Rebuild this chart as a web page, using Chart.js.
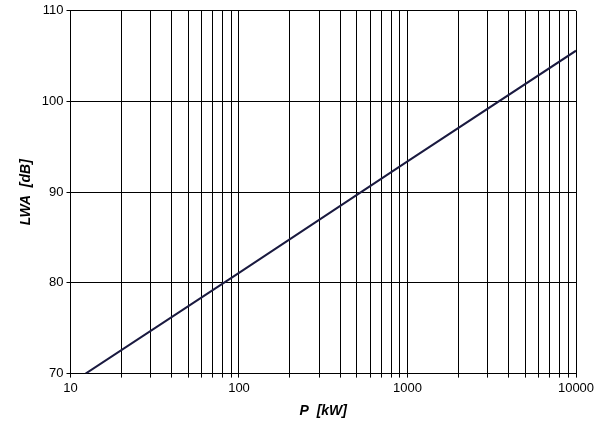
<!DOCTYPE html>
<html>
<head>
<meta charset="utf-8">
<script src="https://cdn.jsdelivr.net/npm/chart.js@4"></script>
<style>
  body { margin: 0; background: #fff; }
  #wrap { width: 600px; height: 434px; }
</style>
</head>
<body>
<div id="wrap"><canvas id="myChart"></canvas></div>
<script>
// values
let powerKW = [12.3, 100, 1000, 10000];
let soundLevel = [70, 81.1, 93.4, 105.6];
let yTicks = [70, 80, 90, 100, 110];
let xTicks = [];
[10, 100, 1000].forEach(d => { for (let m = 1; m < 10; m++) xTicks.push(d * m); });
xTicks.push(10000);

let ctx = document.getElementById('myChart');
let myChart = new Chart(ctx, {
  type: 'line',
  data: {
    datasets: [{
      data: powerKW.map((p, i) => ({ x: p, y: soundLevel[i] })),
      borderColor: '#1a1a40',
      borderWidth: 2,
      pointRadius: 0,
      fill: false
    }]
  },
  options: {
    responsive: true,
    maintainAspectRatio: false,
    animation: false,
    layout: { padding: { top: 1, right: 24, left: 14, bottom: 10 } },
    plugins: { legend: { display: false }, tooltip: { enabled: false } },
    scales: {
      x: {
        type: 'logarithmic',
        min: 10,
        max: 10000,
        afterBuildTicks: function (axis) { axis.ticks = xTicks.map(v => ({ value: v })); },
        border: { color: '#000', width: 1 },
        grid: { color: '#000', lineWidth: 1, drawTicks: true, tickLength: 4 },
        ticks: {
          autoSkip: false,
          maxRotation: 0,
          color: '#000',
          font: { family: 'Liberation Sans', size: 13 },
          callback: function (v) {
            let l = Math.log10(v);
            return Math.abs(l - Math.round(l)) < 1e-9 ? String(v) : '';
          }
        },
        title: {
          display: true,
          text: 'P  [kW]',
          color: '#000',
          font: { family: 'Liberation Sans', size: 14, weight: 'bold', style: 'italic' }
        }
      },
      y: {
        min: 70,
        max: 110,
        afterBuildTicks: function (axis) { axis.ticks = yTicks.map(v => ({ value: v })); },
        border: { color: '#000', width: 1 },
        grid: { color: '#000', lineWidth: 1, tickLength: 4 },
        ticks: {
          color: '#000',
          font: { family: 'Liberation Sans', size: 13 }
        },
        title: {
          display: true,
          text: 'LWA  [dB]',
          color: '#000',
          font: { family: 'Liberation Sans', size: 14, weight: 'bold', style: 'italic' }
        }
      }
    }
  }
});
</script>
</body>
</html>
